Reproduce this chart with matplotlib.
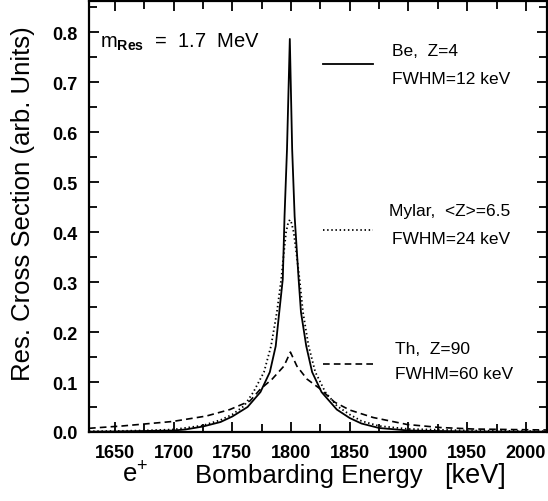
import matplotlib
matplotlib.use("Agg")
import matplotlib.pyplot as plt
from matplotlib.ticker import MultipleLocator

plt.rcParams['font.family'] = ['Liberation Sans', 'DejaVu Sans']
plt.rcParams['mathtext.fontset'] = 'custom'
plt.rcParams['mathtext.rm'] = 'Liberation Sans'
plt.rcParams['mathtext.it'] = 'Liberation Sans:italic'
plt.rcParams['mathtext.bf'] = 'Liberation Sans:bold'

# Be, Z=4  (FWHM 12 keV)
be_kev = [1628, 1650, 1675, 1700, 1710, 1725, 1740, 1750, 1763, 1774, 1782, 1787,
          1790, 1793, 1794.5, 1796.6, 1799, 1801, 1803.1, 1806.5, 1808.5, 1813,
          1818, 1826, 1839, 1850, 1860, 1875, 1900, 1950, 2018]
be_val = [0.0005, 0.001, 0.002, 0.003, 0.005, 0.011, 0.020, 0.031, 0.050, 0.080,
          0.120, 0.172, 0.240, 0.306, 0.432, 0.566, 0.787, 0.566, 0.432, 0.306,
          0.240, 0.172, 0.120, 0.080, 0.045, 0.028, 0.017, 0.008, 0.003, 0.001, 0.0005]

# Mylar, <Z>=6.5  (FWHM 24 keV)
my_kev = [1628, 1650, 1675, 1700, 1725, 1740, 1750, 1760, 1768, 1777, 1783, 1788,
          1791.7, 1794, 1795.8, 1797.5, 1799, 1800.5, 1802.3, 1804.5, 1807.3,
          1810.2, 1815, 1820.7, 1829.2, 1839.2, 1850, 1860, 1875, 1900, 1950, 2018]
my_val = [0.0015, 0.002, 0.003, 0.005, 0.013, 0.024, 0.035, 0.052, 0.080, 0.120,
          0.172, 0.240, 0.306, 0.360, 0.400, 0.418, 0.425, 0.418, 0.400, 0.360,
          0.306, 0.240, 0.172, 0.120, 0.080, 0.052, 0.035, 0.022, 0.012, 0.006,
          0.003, 0.0015]

# Th, Z=90  (FWHM 60 keV)
th_kev = [1628, 1656, 1699, 1728, 1748, 1765, 1774, 1784, 1794, 1799.5, 1805,
          1813.6, 1825, 1837, 1850, 1870, 1899, 1927, 1955, 1985, 2018]
th_val = [0.0074, 0.012, 0.021, 0.032, 0.045, 0.062, 0.086, 0.106, 0.132, 0.160,
          0.132, 0.106, 0.086, 0.060, 0.044, 0.029, 0.015, 0.009, 0.006, 0.005, 0.004]

labels = [("Be,  Z=4", "FWHM=12 keV"),
          ("Mylar,  <Z>=6.5", "FWHM=24 keV"),
          ("Th,  Z=90", "FWHM=60 keV")]

fig = plt.figure(figsize=(5.48, 5.02), dpi=100)
ax = fig.add_axes([89 / 548, 69 / 502, 458 / 548, 431 / 502])

solid = dict(color='black', lw=1.3, linestyle='-')
dotted = dict(color='black', lw=1.3, linestyle=(0, (0.8, 1.5)))
dashed = dict(color='black', lw=1.2, linestyle=(0, (4, 2.5)))

ax.plot(be_kev, be_val, **solid)
ax.plot(my_kev, my_val, **dotted)
ax.plot(th_kev, th_val, **dashed)

ax.set_xlim(1628, 2018)
ax.set_ylim(0, 0.863)

ax.xaxis.set_major_locator(MultipleLocator(50))
ax.xaxis.set_minor_locator(MultipleLocator(25))
ax.yaxis.set_major_locator(MultipleLocator(0.1))
ax.yaxis.set_minor_locator(MultipleLocator(0.05))
ax.yaxis.set_major_formatter(matplotlib.ticker.FormatStrFormatter('%.1f'))

ax.tick_params(which='both', direction='in', top=True, right=True, width=1.3)
ax.tick_params(which='major', length=7)
ax.tick_params(which='minor', length=6)
ax.tick_params(axis='x', which='major', pad=9, labelsize=13)
ax.tick_params(axis='y', which='major', pad=8, labelsize=13)
for t in ax.get_xticklabels() + ax.get_yticklabels():
    t.set_fontweight('bold')
for s in ax.spines.values():
    s.set_linewidth(1.6)

# legend-like key
key_y = [0.854, 0.469, 0.158]
text_y = [(0.886, 0.821), (0.515, 0.450), (0.193, 0.135)]
text_x = [(0.662, 0.662), (0.655, 0.662), (0.668, 0.668)]
for style, ky, (t1, t2), (x1, x2), (l1, l2) in zip([solid, dotted, dashed], key_y,
                                                  text_y, text_x, labels):
    ax.plot([0.511, 0.620], [ky, ky], transform=ax.transAxes, **style)
    ax.text(x1, t1, l1, transform=ax.transAxes, fontsize=12.5, va='center')
    ax.text(x2, t2, l2, transform=ax.transAxes, fontsize=12.5, va='center')

ax.text(0.024, 0.893, r"m$_{\mathbf{Res}}$  =  1.7  MeV", transform=ax.transAxes,
        fontsize=14.5, va='baseline')

fig.text(23 / 548, 0.594, "Res. Cross Section (arb. Units)", rotation=90,
         ha='center', va='center', fontsize=18.5)
fig.text(135 / 548, 19 / 502, r"e$^{+}$", ha='center', va='baseline', fontsize=18.5)
fig.text(195 / 548, 19 / 502, "Bombarding Energy", ha='left', va='baseline', fontsize=18.5)
fig.text(444 / 548, 19 / 502, "[keV]", ha='left', va='baseline', fontsize=19.5)

fig.savefig("out.png", dpi=100)
